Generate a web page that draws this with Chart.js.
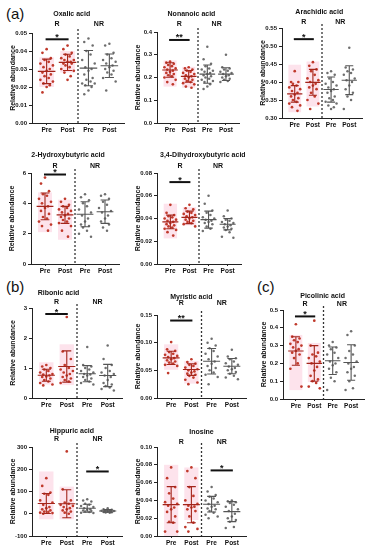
<!DOCTYPE html>
<html><head><meta charset="utf-8">
<script src="https://cdn.jsdelivr.net/npm/chart.js@4"></script>
<style>
html,body{margin:0;padding:0;background:#fff;}
body{width:376px;height:550px;position:relative;overflow:hidden;font-family:'Liberation Sans',Arial,sans-serif;}
canvas{position:absolute;}
.lbl{position:absolute;font-size:15px;color:#111;line-height:1;font-family:'Liberation Sans',Arial,sans-serif;}
</style></head><body>
<div class="lbl" style="left:6px;top:6px">(a)</div>
<div class="lbl" style="left:6px;top:279px">(b)</div>
<div class="lbl" style="left:257px;top:279px">(c)</div>
<script>
// ---------- labels ----------
const groupLabels = ['Pre', 'Post', 'Pre', 'Post'];
const cohortLabels = ['R', 'NR'];
const yTitle = 'Relative abundance';

// ---------- Oxalic acid ----------
const oxalicRPre = [0.041,0.039,0.036,0.035,0.034,0.033,0.032,0.031,0.030,0.029,0.028,0.027,0.026,0.025,0.024,0.023,0.022,0.021,0.020,0.017];
const oxalicRPost = [0.043,0.041,0.039,0.038,0.037,0.036,0.035,0.035,0.034,0.034,0.033,0.033,0.032,0.031,0.030,0.029,0.028,0.026,0.024];
const oxalicNRPre = [0.047,0.045,0.043,0.040,0.038,0.035,0.033,0.031,0.030,0.029,0.027,0.025,0.024,0.023,0.022,0.022,0.021,0.020,0.018,0.016];
const oxalicNRPost = [0.044,0.043,0.039,0.038,0.036,0.035,0.034,0.033,0.032,0.031,0.030,0.029,0.028,0.027,0.025,0.023,0.018];
const oxalicMean = [0.0287, 0.0337, 0.0305, 0.0318];
const oxalicSD = [0.0068, 0.0045, 0.0098, 0.0065];
const oxalicBox = [0.020, 0.0365, 0.028, 0.040];
const oxalicTicks = [0, 0.01, 0.02, 0.03, 0.04, 0.05];
const oxalicSig = ['R', 0.0465, '*'];

// ---------- Nonanoic acid ----------
const nonanoicRPre = [0.27,0.265,0.26,0.255,0.25,0.245,0.24,0.235,0.23,0.225,0.22,0.215,0.21,0.205,0.20,0.19,0.18,0.17];
const nonanoicRPost = [0.245,0.24,0.235,0.23,0.225,0.22,0.215,0.21,0.205,0.20,0.195,0.19,0.185,0.18,0.175,0.17,0.16,0.155];
const nonanoicNRPre = [0.335,0.28,0.26,0.25,0.24,0.235,0.23,0.225,0.22,0.215,0.21,0.205,0.20,0.195,0.19,0.185,0.18,0.17,0.16,0.15];
const nonanoicNRPost = [0.30,0.245,0.24,0.235,0.23,0.225,0.22,0.215,0.21,0.205,0.20,0.195,0.19,0.185,0.18];
const nonanoicMean = [0.233, 0.205, 0.215, 0.215];
const nonanoicSD = [0.032, 0.026, 0.040, 0.028];
const nonanoicBox = [0.16, 0.275, 0.155, 0.247];
const nonanoicTicks = [0, 0.1, 0.2, 0.3, 0.4];
const nonanoicSig = ['R', 0.365, '**'];

// ---------- Arachidic acid ----------
const arachidicRPre = [0.43,0.40,0.40,0.395,0.39,0.385,0.38,0.375,0.37,0.365,0.36,0.355,0.35,0.345,0.34,0.335,0.33,0.32];
const arachidicRPost = [0.455,0.445,0.435,0.43,0.42,0.41,0.405,0.40,0.395,0.39,0.385,0.38,0.37,0.36,0.35,0.34,0.325];
const arachidicNRPre = [0.43,0.425,0.42,0.41,0.40,0.395,0.39,0.385,0.38,0.375,0.37,0.36,0.355,0.35,0.345,0.34,0.335,0.33,0.325];
const arachidicNRPost = [0.495,0.44,0.435,0.43,0.425,0.42,0.41,0.405,0.40,0.39,0.38,0.37,0.36,0.35,0.325];
const arachidicMean = [0.367, 0.399, 0.379, 0.405];
const arachidicSD = [0.023, 0.036, 0.035, 0.040];
const arachidicBox = [0.316, 0.448, 0.332, 0.457];
const arachidicTicks = [0.30, 0.35, 0.40, 0.45, 0.50, 0.55];
const arachidicSig = ['R', 0.519, '*'];

// ---------- 2-Hydroxybutyric acid ----------
const hydroxyRPre = [5.7,5.3,4.8,4.6,4.5,4.3,4.1,4.0,3.8,3.7,3.5,3.3,3.1,3.0,2.8,2.6,2.5,2.2];
const hydroxyRPost = [4.3,4.1,3.9,3.8,3.7,3.6,3.5,3.4,3.3,3.2,3.1,3.0,2.9,2.8,2.7,2.5,2.2,1.8];
const hydroxyNRPre = [4.6,4.4,4.2,4.0,3.8,3.6,3.4,3.2,3.0,2.8,2.6,2.5,2.4,2.2,2.0,1.8];
const hydroxyNRPost = [4.6,4.5,4.3,4.1,3.9,3.7,3.5,3.4,3.2,3.0,2.8,2.6,2.4,2.2];
const hydroxyMean = [3.8, 3.24, 3.28, 3.45];
const hydroxySD = [0.88, 0.56, 0.82, 0.77];
const hydroxyBox = [2.1, 4.72, 1.6, 4.24];
const hydroxyTicks = [0, 2, 4, 6];
const hydroxySig = ['R', 5.9, '*'];

// ---------- 3,4-Dihydroxybutyric acid ----------
const dihydroxyRPre = [0.052,0.045,0.043,0.042,0.041,0.040,0.039,0.038,0.037,0.036,0.035,0.034,0.033,0.032,0.031,0.030,0.028,0.025];
const dihydroxyRPost = [0.052,0.049,0.048,0.046,0.045,0.044,0.043,0.042,0.041,0.040,0.039,0.038,0.037,0.036,0.035,0.033];
const dihydroxyNRPre = [0.060,0.053,0.047,0.045,0.043,0.041,0.040,0.039,0.038,0.037,0.036,0.035,0.033,0.031,0.029];
const dihydroxyNRPost = [0.047,0.042,0.040,0.039,0.038,0.037,0.036,0.035,0.034,0.033,0.032,0.031,0.030,0.028,0.024,0.023];
const dihydroxyMean = [0.037, 0.041, 0.039, 0.035];
const dihydroxySD = [0.006, 0.0055, 0.0075, 0.005];
const dihydroxyBox = [0.0225, 0.053, 0.034, 0.050];
const dihydroxyTicks = [0, 0.02, 0.04, 0.06, 0.08];
const dihydroxySig = ['R', 0.072, '*'];

// ---------- Ribonic acid ----------
const ribonicRPre = [1.1,1.05,1.0,0.95,0.9,0.85,0.8,0.78,0.75,0.72,0.7,0.65,0.6,0.55,0.5,0.45,0.42];
const ribonicRPost = [2.7,1.55,1.3,1.1,1.0,0.95,0.9,0.85,0.8,0.75,0.7,0.65,0.6,0.55,0.5];
const ribonicNRPre = [1.7,1.1,1.05,1.0,0.95,0.9,0.85,0.8,0.78,0.75,0.7,0.65,0.6,0.55,0.5,0.45];
const ribonicNRPost = [1.75,1.3,1.1,1.0,0.9,0.85,0.8,0.75,0.7,0.6,0.5,0.45,0.4,0.35,0.3,0.25];
const ribonicMean = [0.76, 1.05, 0.81, 0.75];
const ribonicSD = [0.20, 0.52, 0.27, 0.37];
const ribonicBox = [0.45, 1.19, 0.43, 1.79];
const ribonicTicks = [0, 1, 2, 3];
const ribonicSig = ['R', 2.8, '*'];

// ---------- Myristic acid ----------
const myristicRPre = [0.101,0.088,0.085,0.083,0.08,0.078,0.076,0.074,0.072,0.07,0.068,0.066,0.064,0.062,0.06,0.058,0.045];
const myristicRPost = [0.07,0.065,0.062,0.06,0.058,0.055,0.052,0.05,0.048,0.046,0.044,0.042,0.04,0.037,0.033,0.028,0.025];
const myristicNRPre = [0.107,0.1,0.095,0.09,0.085,0.08,0.075,0.07,0.066,0.062,0.058,0.054,0.05,0.046,0.042,0.038,0.025];
const myristicNRPost = [0.087,0.075,0.072,0.07,0.066,0.063,0.06,0.057,0.054,0.052,0.05,0.047,0.044,0.04,0.037,0.034];
const myristicMean = [0.0726, 0.0514, 0.0665, 0.0575];
const myristicSD = [0.012, 0.0105, 0.023, 0.0138];
const myristicBox = [0.051, 0.097, 0.026, 0.067];
const myristicTicks = [0, 0.05, 0.10, 0.15];
const myristicSig = ['R', 0.14, '**'];

// ---------- Picolinic acid ----------
const picolinicRPre = [0.42,0.35,0.34,0.33,0.32,0.31,0.3,0.29,0.28,0.27,0.26,0.25,0.23,0.2,0.17,0.07];
const picolinicRPost = [0.44,0.3,0.26,0.25,0.24,0.23,0.21,0.2,0.18,0.16,0.13,0.11,0.1,0.09,0.07,0.06];
const picolinicNRPre = [0.32,0.3,0.29,0.28,0.26,0.25,0.23,0.21,0.2,0.19,0.17,0.15,0.12,0.1,0.05];
const picolinicNRPost = [0.38,0.36,0.3,0.27,0.25,0.23,0.21,0.2,0.18,0.17,0.15,0.13,0.1,0.06,0.05];
const picolinicMean = [0.27, 0.20, 0.215, 0.205];
const picolinicSD = [0.08, 0.10, 0.077, 0.10];
const picolinicBox = [0.05, 0.36, 0.095, 0.315];
const picolinicTicks = [0, 0.1, 0.2, 0.3, 0.4, 0.5];
const picolinicSig = ['R', 0.464, '*'];

// ---------- Hippuric acid ----------
const hippuricRPre = [160,125,95,90,85,60,50,40,30,25,20,15,10,8,5,3,0];
const hippuricRPost = [280,110,60,50,45,40,35,30,25,20,15,10,5,0];
const hippuricNRPre = [65,60,55,45,40,35,30,25,20,18,15,12,10,8,5,3];
const hippuricNRPost = [25,20,18,16,15,13,12,11,10,9,8,7,6,5];
const hippuricMean = [46, 45, 25, 12.5];
const hippuricSD = [45, 63, 18, 6];
const hippuricBox = [-25, 190, -25, 122];
const hippuricTicks = [-100, 0, 100, 200, 300];
const hippuricSig = ['NR', 190, '*'];

// ---------- Inosine ----------
const inosineRPre = [0.077,0.065,0.055,0.048,0.042,0.038,0.036,0.034,0.032,0.03,0.027,0.022,0.016,0.015,0.005,0.005];
const inosineRPost = [0.077,0.073,0.065,0.055,0.045,0.04,0.036,0.034,0.033,0.032,0.03,0.028,0.022,0.015,0.01,0.008,0.005];
const inosineNRPre = [0.055,0.05,0.046,0.044,0.042,0.04,0.038,0.036,0.034,0.033,0.031,0.03,0.028,0.026,0.024,0.022,0.02];
const inosineNRPost = [0.04,0.039,0.038,0.037,0.035,0.033,0.03,0.028,0.025,0.022,0.02,0.018,0.016,0.01,0.009];
const inosineMean = [0.0352, 0.0352, 0.0357, 0.0274];
const inosineSD = [0.0203, 0.0203, 0.0088, 0.0112];
const inosineBox = [0.0, 0.08, 0.018, 0.077];
const inosineTicks = [0, 0.02, 0.04, 0.06, 0.08, 0.10];
const inosineSig = ['NR', 0.0737, '*'];

// ---------- layout (page px): [left, top, axisX, topY, botY, rightX, titleX(cat units), titleDy, rDy] ----------
const FONT = "'Liberation Sans', Arial, sans-serif";
const spread = [0, -0.2, 0.2, -0.1, 0.1, -0.3, 0.3, -0.15, 0.15];
const R_PT = '#c0392b', R_LINE = '#a3251b', NR_PT = '#6e6e6e', NR_LINE = '#555';

function makePanel(title, groups, mean, sd, box, ticks, dec, sig, lay) {
  const [L, T, axisX, topY, botY, rightX, titleX, titleDy, rDy] = lay;
  const cv = document.createElement('canvas');
  const W = rightX - L + 3, H = botY - T + 14;
  cv.width = W; cv.height = H;
  cv.style.left = L + 'px'; cv.style.top = T + 'px';
  cv.style.width = W + 'px'; cv.style.height = H + 'px';
  document.body.appendChild(cv);

  const decor = {
    id: 'decor',
    beforeDatasetsDraw(chart) {
      const {ctx, scales: {x, y}} = chart;
      ctx.save();
      ctx.fillStyle = '#fde3ec';
      for (let g = 0; g < 2; g++) {
        const x0 = x.getPixelForValue(g - 0.35), x1 = x.getPixelForValue(g + 0.35);
        const y0 = y.getPixelForValue(box[2 * g + 1]), y1 = y.getPixelForValue(box[2 * g]);
        ctx.fillRect(x0, y0, x1 - x0, y1 - y0);
      }
      ctx.restore();
    },
    afterDatasetsDraw(chart) {
      const {ctx, chartArea: ca, scales: {x, y}} = chart;
      ctx.save();
      // mean and SD
      for (let g = 0; g < 4; g++) {
        ctx.strokeStyle = g < 2 ? R_LINE : NR_LINE;
        ctx.lineWidth = 1.1;
        const ym = y.getPixelForValue(mean[g]);
        const yt = y.getPixelForValue(mean[g] + sd[g]);
        const yb = y.getPixelForValue(mean[g] - sd[g]);
        const xc = x.getPixelForValue(g);
        ctx.beginPath();
        ctx.moveTo(x.getPixelForValue(g - 0.42), ym); ctx.lineTo(x.getPixelForValue(g + 0.42), ym);
        ctx.moveTo(xc, yt); ctx.lineTo(xc, yb);
        ctx.moveTo(x.getPixelForValue(g - 0.22), yt); ctx.lineTo(x.getPixelForValue(g + 0.22), yt);
        ctx.moveTo(x.getPixelForValue(g - 0.22), yb); ctx.lineTo(x.getPixelForValue(g + 0.22), yb);
        ctx.stroke();
      }
      // divider
      const xd = x.getPixelForValue(1.5);
      ctx.strokeStyle = '#333'; ctx.lineWidth = 1.3; ctx.setLineDash([2, 2]);
      ctx.beginPath(); ctx.moveTo(xd, ca.top - 4); ctx.lineTo(xd, ca.bottom); ctx.stroke();
      ctx.setLineDash([]);
      // significance
      const base = sig[0] === 'R' ? 0 : 2;
      const ys = y.getPixelForValue(sig[1]);
      ctx.strokeStyle = '#111'; ctx.lineWidth = 2;
      ctx.beginPath(); ctx.moveTo(x.getPixelForValue(base - 0.05), ys); ctx.lineTo(x.getPixelForValue(base + 1.05), ys); ctx.stroke();
      ctx.fillStyle = '#111'; ctx.textAlign = 'center'; ctx.textBaseline = 'alphabetic';
      ctx.font = 'bold 9px ' + FONT;
      ctx.fillText(sig[2], x.getPixelForValue(base + 0.5), ys + 0.5);
      // title, cohort labels
      ctx.textBaseline = 'middle';
      ctx.font = 'bold 7px ' + FONT;
      ctx.fillText(title, x.getPixelForValue(titleX), ca.top - titleDy);
      ctx.fillText(cohortLabels[0], x.getPixelForValue(0.5), ca.top - rDy);
      ctx.fillText(cohortLabels[1], x.getPixelForValue(2.5), ca.top - rDy);
      ctx.restore();
    }
  };

  const datasets = groups.map((vals, g) => ({
    data: vals.map((v, i) => ({x: g + spread[i % spread.length], y: v})),
    pointRadius: g < 2 ? 1.35 : 1.25,
    pointBackgroundColor: g < 2 ? R_PT : NR_PT,
    pointBorderWidth: 0,
    pointStyle: 'circle',
    showLine: false
  }));

  new Chart(cv, {
    type: 'scatter',
    data: {datasets},
    options: {
      responsive: false, animation: false, devicePixelRatio: 1,
      layout: {padding: {top: topY - T, right: 3, left: 0, bottom: 0}},
      plugins: {legend: {display: false}, tooltip: {enabled: false}},
      scales: {
        x: {
          type: 'linear', min: -0.7, max: 3.7,
          grid: {drawOnChartArea: false, drawTicks: true, tickLength: 2, color: '#222'},
          border: {color: '#222', width: 1},
          afterBuildTicks: s => { s.ticks = [0, 1, 2, 3].map(v => ({value: v})); },
          ticks: {autoSkip: false, maxRotation: 0, padding: 1, color: '#111',
                  font: {family: FONT, size: 6.5, weight: 'bold'},
                  callback: (v, i) => groupLabels[i]},
          afterFit: s => { s.height = 14; }
        },
        y: {
          min: ticks[0], max: ticks[ticks.length - 1],
          grid: {drawOnChartArea: false, drawTicks: true, tickLength: 3, color: '#222'},
          border: {color: '#222', width: 1},
          afterBuildTicks: s => { s.ticks = ticks.map(v => ({value: v})); },
          ticks: {autoSkip: false, padding: 2, color: '#111',
                  font: {family: FONT, size: 6, weight: 'bold'},
                  callback: v => Number(v).toFixed(dec)},
          title: {display: true, text: yTitle, color: '#111', padding: {top: 8.5, bottom: 0},
                  font: {family: FONT, size: 7, weight: 'bold'}},
          afterFit: s => { s.width = axisX - L; }
        }
      }
    },
    plugins: [decor]
  });
}

makePanel('Oxalic acid', [oxalicRPre, oxalicRPost, oxalicNRPre, oxalicNRPost], oxalicMean, oxalicSD, oxalicBox, oxalicTicks, 2, oxalicSig,
  [0, 0, 32, 33, 123, 125, 1.2, 19, 9]);
makePanel('Nonanoic acid', [nonanoicRPre, nonanoicRPost, nonanoicNRPre, nonanoicNRPost], nonanoicMean, nonanoicSD, nonanoicBox, nonanoicTicks, 1, nonanoicSig,
  [125, 0, 157, 32, 123, 240, 1.15, 18, 8]);
makePanel('Arachidic acid', [arachidicRPre, arachidicRPost, arachidicNRPre, arachidicNRPost], arachidicMean, arachidicSD, arachidicBox, arachidicTicks, 2, arachidicSig,
  [250, 0, 282, 28, 118, 363, 1.35, 16, 6]);
makePanel('2-Hydroxybutyric acid', [hydroxyRPre, hydroxyRPost, hydroxyNRPre, hydroxyNRPost], hydroxyMean, hydroxySD, hydroxyBox, hydroxyTicks, 0, hydroxySig,
  [-1, 140, 31, 173, 264, 120, 1.15, 18, 7]);
makePanel('3,4-Dihydroxybutyric acid', [dihydroxyRPre, dihydroxyRPost, dihydroxyNRPre, dihydroxyNRPost], dihydroxyMean, dihydroxySD, dihydroxyBox, dihydroxyTicks, 2, dihydroxySig,
  [125, 140, 157, 173, 264, 242, 1.7, 18, 7]);
makePanel('Ribonic acid', [ribonicRPre, ribonicRPost, ribonicNRPre, ribonicNRPost], ribonicMean, ribonicSD, ribonicBox, ribonicTicks, 0, ribonicSig,
  [0, 275, 32, 308, 398, 123, 0.6, 15, 6]);
makePanel('Myristic acid', [myristicRPre, myristicRPost, myristicNRPre, myristicNRPost], myristicMean, myristicSD, myristicBox, myristicTicks, 2, myristicSig,
  [125, 275, 157, 315, 398, 247, 1.0, 18, 12]);
makePanel('Picolinic acid', [picolinicRPre, picolinicRPost, picolinicNRPre, picolinicNRPost], picolinicMean, picolinicSD, picolinicBox, picolinicTicks, 1, picolinicSig,
  [251, 275, 283, 310, 399, 365, 1.45, 14, 6]);
makePanel('Hippuric acid', [hippuricRPre, hippuricRPost, hippuricNRPre, hippuricNRPost], hippuricMean, hippuricSD, hippuricBox, hippuricTicks, 0, hippuricSig,
  [0, 410, 32, 447, 536, 123, 1.25, 16, 8]);
makePanel('Inosine', [inosineRPre, inosineRPost, inosineNRPre, inosineNRPost], inosineMean, inosineSD, inosineBox, inosineTicks, 2, inosineSig,
  [125, 410, 157, 447, 536, 247, 1.5, 15, 5]);
</script>
</body></html>
